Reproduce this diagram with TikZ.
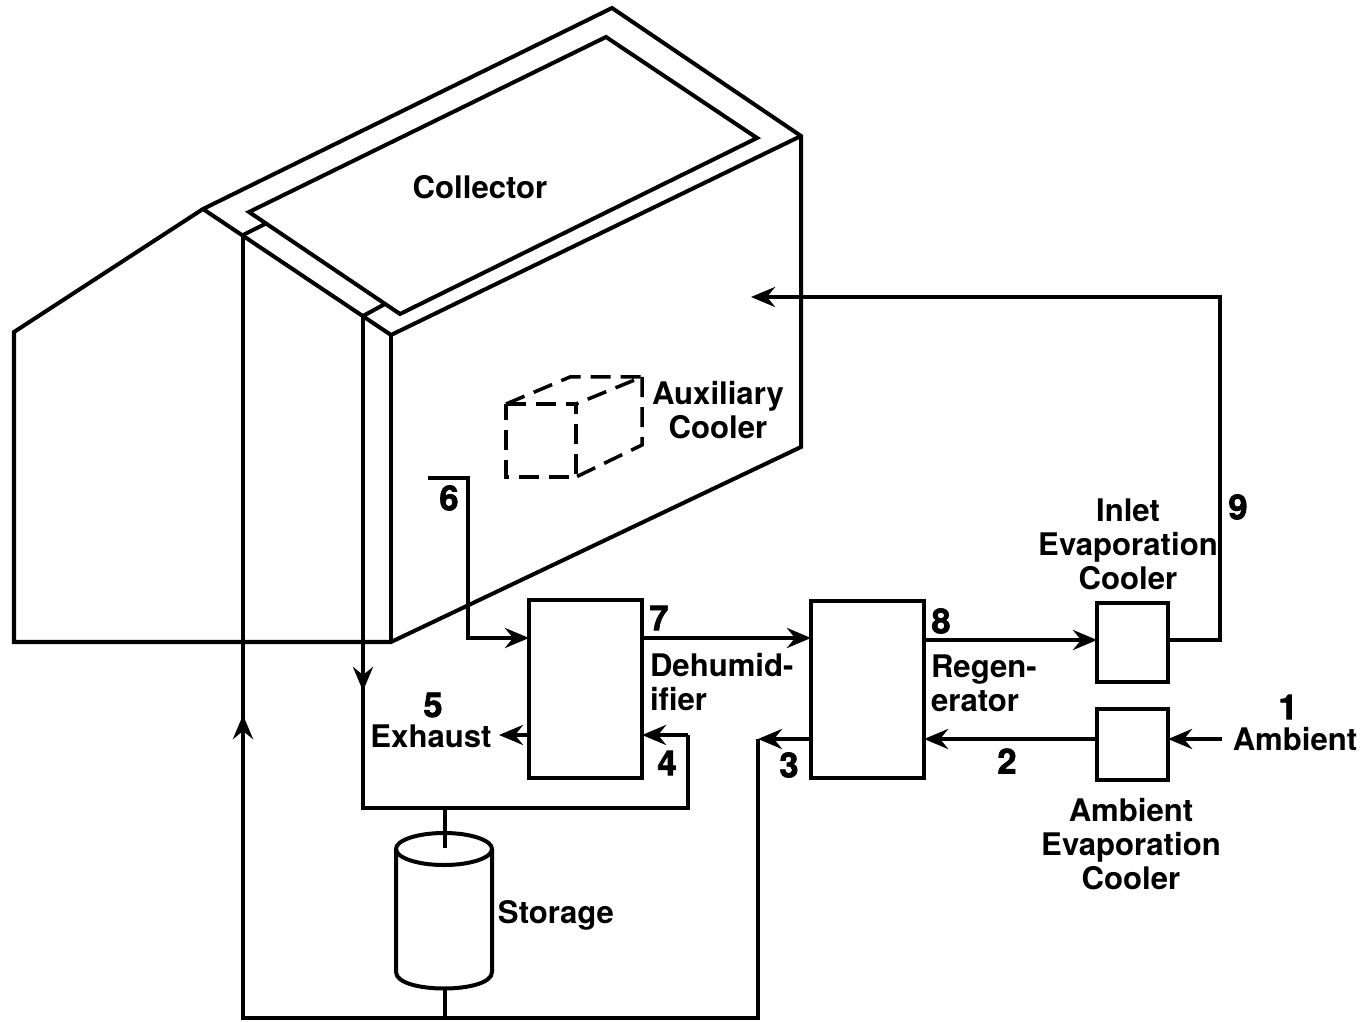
\documentclass[tikz,border=0pt]{standalone}
\usepackage{fontspec}
\setmainfont{TeX Gyre Heros}
\newfontfamily\numfont[FakeBold=2]{TeX Gyre Heros}
\usetikzlibrary{arrows.meta}

\begin{document}
\begin{tikzpicture}[x=0.01cm, y=-0.01cm, >={Stealth[length=0.24cm,width=0.2cm,inset=0.08cm]},
  line width=0.04cm, font=\fontsize{8.85}{9.65}\selectfont\bfseries,
  unit/.style={draw, inner sep=0pt, outer sep=0pt, anchor=north west},
  lbl/.style={inner sep=0pt, align=center},
  num/.style={inner sep=0pt, font=\fontsize{9.8}{10}\numfont\bfseries},
  hidden/.style={dash pattern=on 0.2cm off 0.1cm, line width=0.035cm}]
\useasboundingbox (0,0) rectangle (1367,1022);
% building and collector
\draw (14,332) -- (203,209) -- (612,8) -- (801,136) -- (801,447) -- (391,642) -- (14,642) -- cycle;
\draw (203,209) -- (391,335) -- (801,136);
\draw (391,335) -- (391,642);
\draw (249,212) -- (606,37) -- (757,138) -- (400,314) -- cycle;
\draw (243,235) -- (267,223);
\draw (363,316) -- (385,304);
% auxiliary cooler, hidden lines
\draw[hidden] (506,404) -- (576,404) -- (576,477) -- (506,477) -- cycle;
\draw[hidden] (506,404) -- (570,377) -- (642,377) -- (576,404);
\draw[hidden] (642,377) -- (642,445) -- (576,477);
% components
\node[unit, minimum width=1.13cm, minimum height=1.78cm] (dehum) at (529,600) {};
\node[unit, minimum width=1.13cm, minimum height=1.77cm] (regen) at (811,601) {};
\node[unit, minimum width=0.71cm, minimum height=0.79cm] (inlet) at (1097,603) {};
\node[unit, minimum width=0.71cm, minimum height=0.71cm] (ambev) at (1097,709) {};
% storage tank
\draw (444,849) ellipse [x radius=0.48cm, y radius=0.16cm];
\draw (396,849) -- (396,972) .. controls (396,994) and (492,994) .. (492,972) -- (492,849);
% free ends of the pipes
\coordinate (c6) at (428,478);
\coordinate (c1) at (1222,739);
\coordinate (c5) at (499,735);
\coordinate (c9) at (751,297);
\coordinate (cin) at (243,235);
\coordinate (cout) at (363,316);
\coordinate (jtop) at (445,808);
\coordinate (jbot) at (445,1018);
\coordinate (stortop) at (445,848);
\coordinate (storbot) at (445,987);
% air stream
\draw[->] (c1) -- (ambev.east |- c1);
\draw[->] (ambev.west |- c1) -- (regen.east |- c1);
\draw[->] (regen.west |- c1) -- (758,739);
\draw (758,739) -- (758,1018) -- (243,1018) -- (cin);
\draw[->] (243,1018) -- (243,715);
\draw (cout) -- (363,808) -- (688,808) -- (688,735);
\draw[->] (363,640) -- (363,691);
\draw[->] (688,735) -- (dehum.east |- 0,735);
\draw[->] (dehum.west |- c5) -- (c5);
\draw[->] (c6) -- (468,478) -- (468,638) -- (dehum.west |- 0,638);
\draw[->] (dehum.east |- 0,638) -- (regen.west |- 0,638);
\draw[->] (regen.east |- 0,640) -- (inlet.west |- 0,640);
\draw[->] (inlet.east |- 0,640) -- (1220,640) -- (1220,297) -- (c9);
% storage stems
\draw (jtop) -- (stortop);
\draw (jbot) -- (storbot);
% labels
\node[lbl] (tcoll) at (480,187) {Collector};
\node[lbl] (taux) at (718,410) {Auxiliary\\Cooler};
\node[lbl] (tinlet) at (1128,544) {Inlet\\Evaporation\\Cooler};
\node[lbl] (tambev) at (1131,844) {Ambient\\Evaporation\\Cooler};
\node[lbl, align=left, anchor=west] (tdehum) at (648,682) {Dehumid-\\ifier};
\node[lbl, align=left, anchor=west] (tregen) at (929,683) {Regen-\\erator};
\node[lbl] (texh) at (431,736) {Exhaust};
\node[lbl] (tamb) at (1295,739) {Ambient};
\node[lbl] (tstor) at (556,915) {Storage};
\node[num] (n1) at (1288,707) {1};
\node[num] (n2) at (1007,761) {2};
\node[num] (n3) at (789,765) {3};
\node[num] (n4) at (667,763) {4};
\node[num] (n5) at (433,705) {5};
\node[num] (n6) at (449,498) {6};
\node[num] (n7) at (659,618) {7};
\node[num] (n8) at (941,621) {8};
\node[num] (n9) at (1238,507) {9};
\end{tikzpicture}
\end{document}
